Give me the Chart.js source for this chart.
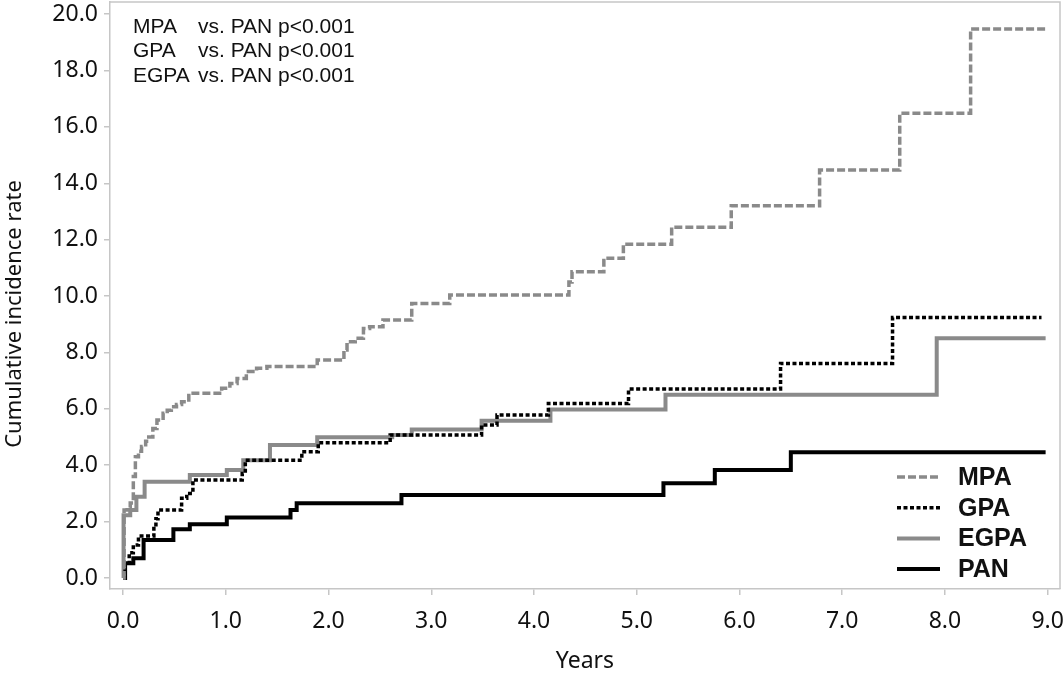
<!DOCTYPE html>
<html>
<head>
<meta charset="utf-8">
<script src="https://cdn.jsdelivr.net/npm/chart.js@4.4.1/dist/chart.umd.min.js"></script>
<style>
  html, body { margin: 0; padding: 0; background: #fff; }
  #wrap { width: 1063px; height: 675px; position: relative; }
</style>
</head>
<body>
<div id="wrap"><canvas id="incidenceChart"></canvas></div>
<script>
// series names
const seriesNames = ["MPA", "GPA", "EGPA", "PAN"];

// step curves: years at each jump, cumulative incidence after the jump
const mpaYears = [0, 0.01, 0.04, 0.07, 0.1, 0.12, 0.15, 0.18, 0.22, 0.25, 0.29, 0.33, 0.39, 0.43, 0.47, 0.52, 0.57, 0.64, 0.96, 1.04, 1.11, 1.2, 1.3, 1.4, 1.89, 2.15, 2.18, 2.26, 2.34, 2.4, 2.53, 2.81, 3.18, 4.34, 4.37, 4.68, 4.87, 5.34, 5.92, 6.78, 7.56, 8.25, 8.98];
const mpaRate = [0, 2.41, 2.5, 2.66, 3.6, 4.3, 4.5, 4.66, 4.85, 5.0, 5.3, 5.6, 5.84, 5.95, 6.07, 6.15, 6.25, 6.55, 6.73, 6.9, 7.08, 7.32, 7.44, 7.5, 7.73, 8.09, 8.38, 8.5, 8.85, 8.91, 9.15, 9.74, 10.04, 10.5, 10.86, 11.34, 11.84, 12.44, 13.2, 14.47, 16.48, 19.47, 19.47];

const gpaYears = [0, 0.02, 0.06, 0.1, 0.15, 0.3, 0.32, 0.34, 0.57, 0.62, 0.68, 1.16, 1.19, 1.74, 1.9, 2.6, 3.49, 3.64, 4.14, 4.92, 6.4, 7.49, 8.94];
const gpaRate = [0, 0.53, 0.9, 1.17, 1.49, 1.82, 2.1, 2.41, 2.83, 3.0, 3.48, 3.71, 4.18, 4.48, 4.8, 5.07, 5.43, 5.78, 6.19, 6.7, 7.61, 9.24, 9.24];

const egpaYears = [0, 0.005, 0.07, 0.13, 0.21, 0.65, 1.01, 1.17, 1.43, 1.89, 2.62, 2.81, 3.49, 4.16, 5.28, 7.92, 8.98];
const egpaRate = [0, 2.23, 2.41, 2.88, 3.41, 3.65, 3.83, 4.18, 4.72, 4.99, 5.07, 5.27, 5.58, 5.98, 6.5, 8.5, 8.5];

const panYears = [0, 0.02, 0.1, 0.2, 0.49, 0.65, 1.01, 1.63, 1.69, 2.71, 5.26, 5.76, 6.5, 8.98];
const panRate = [0, 0.52, 0.7, 1.35, 1.73, 1.91, 2.15, 2.41, 2.65, 2.94, 3.36, 3.83, 4.46, 4.46];

// axis ticks
const xTicks = [0, 1, 2, 3, 4, 5, 6, 7, 8, 9];
const yTicks = [0, 2, 4, 6, 8, 10, 12, 14, 16, 18, 20];

// log-rank comparisons shown top-left
const comparisonGroups = ["MPA", "GPA", "EGPA"];
const comparisonText = ["vs. PAN p<0.001", "vs. PAN p<0.001", "vs. PAN p<0.001"];

const xTitle = "Years";
const yTitle = "Cumulative incidence rate";

function toPoints(xs, ys) {
  return xs.map((x, i) => ({ x: x, y: ys[i] }));
}

const GRAY = "#8a8a8a";
const AXIS_GRAY = "#c6c6c6";
const TICK_FONT = { family: "'Noto Sans', sans-serif", size: 23 };

// 📝 frame, p-values, legend and y title drawn over the chart
const overlayPlugin = {
  id: "overlay",
  afterDraw(chart) {
    const ctx = chart.ctx;
    const area = chart.chartArea;
    ctx.save();

    // top & right sides of the frame
    ctx.strokeStyle = AXIS_GRAY;
    ctx.lineWidth = 1.5;
    ctx.beginPath();
    ctx.moveTo(area.left, area.top);
    ctx.lineTo(area.right, area.top);
    ctx.lineTo(area.right, area.bottom);
    ctx.stroke();

    // p-value text
    ctx.fillStyle = "#111";
    ctx.font = "21px 'Liberation Sans', Arial, sans-serif";
    ctx.textBaseline = "middle";
    ctx.textAlign = "left";
    comparisonGroups.forEach((g, i) => {
      const y = area.top + 25 + i * 24.5;
      ctx.fillText(g, area.left + 23, y);
      ctx.fillText(comparisonText[i], area.left + 88, y);
    });

    // legend
    ctx.font = "bold 25px 'Liberation Sans', Arial, sans-serif";
    chart.data.datasets.forEach((ds, i) => {
      const y = 477 + i * 30.7;
      ctx.strokeStyle = ds.borderColor;
      ctx.lineWidth = ds.borderWidth;
      ctx.setLineDash(ds.borderDash || []);
      ctx.beginPath();
      ctx.moveTo(897, y);
      ctx.lineTo(940, y);
      ctx.stroke();
      ctx.setLineDash([]);
      ctx.fillStyle = "#111";
      ctx.fillText(ds.label, 958, y + 1);
    });

    // y axis title
    ctx.translate(15, 314);
    ctx.rotate(-Math.PI / 2);
    ctx.textAlign = "center";
    ctx.font = "22px 'Noto Sans', sans-serif";
    ctx.fillText(yTitle, 0, 0);

    ctx.restore();
  },
};

new Chart(document.getElementById("incidenceChart"), {
  type: "line",
  data: {
    datasets: [
      {
        label: seriesNames[0],
        data: toPoints(mpaYears, mpaRate),
        borderColor: GRAY,
        borderWidth: 3.5,
        borderDash: [8, 3],
      },
      {
        label: seriesNames[1],
        data: toPoints(gpaYears, gpaRate),
        borderColor: "#000",
        borderWidth: 3.5,
        borderDash: [4, 2.5],
      },
      {
        label: seriesNames[2],
        data: toPoints(egpaYears, egpaRate),
        borderColor: GRAY,
        borderWidth: 4,
        borderDash: [],
      },
      {
        label: seriesNames[3],
        data: toPoints(panYears, panRate),
        borderColor: "#000",
        borderWidth: 4,
        borderDash: [],
      },
    ],
  },
  options: {
    responsive: true,
    maintainAspectRatio: false,
    animation: false,
    layout: { padding: { top: 2, right: 3, left: 0, bottom: 0 } },
    elements: {
      point: { radius: 0, hoverRadius: 0 },
      line: { stepped: true, tension: 0, fill: false, borderCapStyle: "butt", borderJoinStyle: "miter" },
    },
    plugins: {
      legend: { display: false },
      tooltip: { enabled: false },
    },
    scales: {
      x: {
        type: "linear",
        min: -0.127,
        max: 9.12,
        afterBuildTicks: (s) => { s.ticks = xTicks.map((v) => ({ value: v })); },
        afterFit: (s) => { s.height = 86; s.paddingLeft = 0; s.paddingRight = 0; },
        ticks: {
          callback: (v) => Number(v).toFixed(1),
          font: TICK_FONT,
          color: "#111",
          padding: 13,
          maxRotation: 0,
          autoSkip: false,
        },
        grid: { drawOnChartArea: false, drawTicks: true, tickLength: 6, color: AXIS_GRAY, lineWidth: 1.5 },
        border: { display: true, color: AXIS_GRAY, width: 1.5 },
        title: {
          display: true,
          text: xTitle,
          color: "#111",
          font: { family: "'Noto Sans', sans-serif", size: 23 },
          padding: { top: 0, bottom: 0 },
        },
      },
      y: {
        type: "linear",
        min: -0.39,
        max: 20.43,
        afterBuildTicks: (s) => { s.ticks = yTicks.map((v) => ({ value: v })); },
        afterFit: (s) => { s.width = 110; s.paddingTop = 0; s.paddingBottom = 0; },
        ticks: {
          callback: (v) => Number(v).toFixed(1),
          font: TICK_FONT,
          color: "#111",
          padding: 6,
          autoSkip: false,
        },
        grid: { drawOnChartArea: false, drawTicks: true, tickLength: 6, color: AXIS_GRAY, lineWidth: 1.5 },
        border: { display: true, color: AXIS_GRAY, width: 1.5 },
        title: { display: false },
      },
    },
  },
  plugins: [overlayPlugin],
});
</script>
</body>
</html>
